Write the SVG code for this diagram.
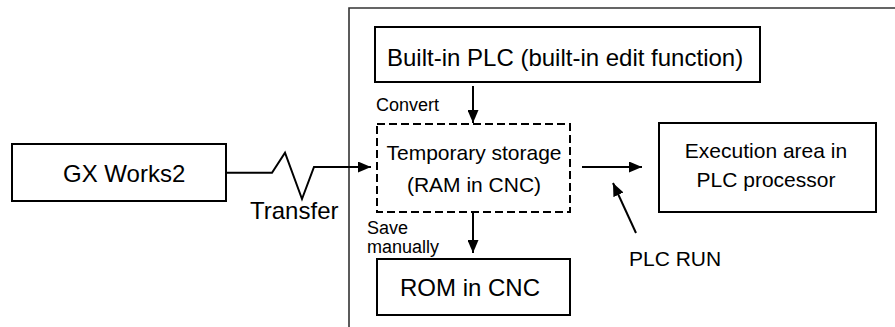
<svg xmlns="http://www.w3.org/2000/svg" width="895" height="327" viewBox="0 0 895 327">
  <style>
    .box { fill: #fff; stroke: #000; stroke-width: 2; }
    .dash { fill: #fff; stroke: #000; stroke-width: 2; stroke-dasharray: 8 4; }
    .frame { fill: none; stroke: #333; stroke-width: 1.6; }
    .conn { fill: none; stroke: #000; stroke-width: 2; }
    text { font-family: "Liberation Sans", Arial, sans-serif; fill: #000; }
    .lg { font-size: 24px; }
    .md { font-size: 21px; }
    .sm { font-size: 18px; }
  </style>
  <defs>
    <marker id="ah" markerUnits="userSpaceOnUse" markerWidth="13" markerHeight="11" refX="13" refY="5.5" orient="auto">
      <path d="M0,0 L13,5.5 L0,11 z" fill="#000"/>
    </marker>
  </defs>

  <g id="frame">
    <path class="frame" d="M349,327 L349,8 L895,8"/>
  </g>

  <g id="gxworks2">
    <rect class="box" x="12" y="144" width="214" height="57"/>
    <text class="lg" x="63" y="182">GX Works2</text>
  </g>

  <g id="builtin-plc">
    <rect class="box" x="375" y="27" width="385" height="55"/>
    <text class="lg" x="387" y="66">Built-in PLC (built-in edit function)</text>
  </g>

  <g id="temp-storage">
    <rect class="dash" x="377" y="124" width="193" height="88"/>
    <text class="md" x="474" y="160" text-anchor="middle">Temporary storage</text>
    <text class="md" x="474" y="192" text-anchor="middle">(RAM in CNC)</text>
  </g>

  <g id="execution-area">
    <rect class="box" x="659" y="123" width="217" height="89"/>
    <text class="md" x="766" y="158" text-anchor="middle">Execution area in</text>
    <text class="md" x="766" y="187" text-anchor="middle">PLC processor</text>
  </g>

  <g id="rom">
    <rect class="box" x="377" y="259" width="193" height="56"/>
    <text class="lg" x="400" y="296">ROM in CNC</text>
  </g>

  <g id="connectors">
    <path class="conn" d="M226,172.7 L272,172.7 L285,152.7 L302,199 L314,167 L371,167" marker-end="url(#ah)"/>
    <path class="conn" d="M473,86 L473,123" marker-end="url(#ah)"/>
    <path class="conn" d="M582,167 L642,167" marker-end="url(#ah)"/>
    <path class="conn" d="M636,233 L613,183" marker-end="url(#ah)"/>
    <path class="conn" d="M473,213 L473,253" marker-end="url(#ah)"/>
  </g>

  <g id="labels">
    <text class="lg" x="250" y="219">Transfer</text>
    <text class="sm" x="376" y="111">Convert</text>
    <text class="sm" x="367" y="234">Save</text>
    <text class="sm" x="367" y="253">manually</text>
    <text class="md" x="629" y="266">PLC RUN</text>
  </g>
</svg>
